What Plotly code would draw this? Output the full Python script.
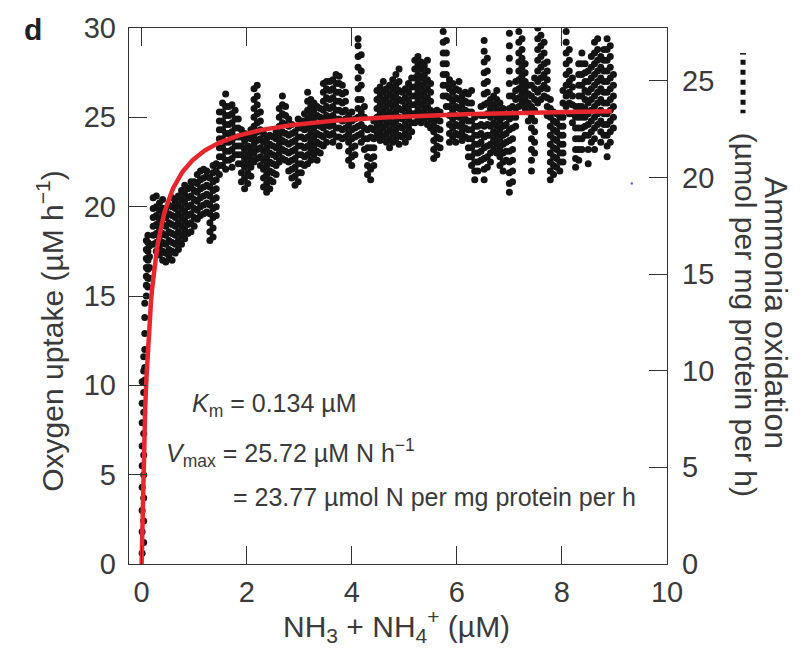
import plotly.graph_objects as go

# Michaelis-Menten fit parameters (as printed on the panel)
KM = 0.134        # µM
VMAX = 25.72      # µM N per h
VMAX_PROTEIN = 23.77  # µmol N per mg protein per h

# Measured oxygen uptake, grouped by NH3 + NH4+ concentration (µM)
conc_cols = [
    0.01, 0.04, 0.06, 0.09, 0.12, 0.15,
    0.22, 0.28, 0.34, 0.40, 0.46, 0.52, 0.58, 0.64, 0.70, 0.76, 0.82, 0.88, 0.94,
    1.00, 1.06, 1.12, 1.18, 1.24, 1.30, 1.36, 1.42, 1.48, 1.54, 1.60, 1.66, 1.72,
    1.78, 1.84, 1.90, 1.96, 2.02, 2.08, 2.14, 2.20, 2.26, 2.32, 2.38, 2.44, 2.50,
    2.56, 2.62, 2.68, 2.74, 2.80, 2.86, 2.92, 2.98, 3.04, 3.10, 3.16, 3.22, 3.28,
    3.34, 3.40, 3.46, 3.52, 3.58, 3.64, 3.70, 3.76, 3.82, 3.88, 3.94, 4.00, 4.06,
    4.12, 4.18, 4.24, 4.30, 4.36, 4.42, 4.48, 4.54, 4.60, 4.66, 4.72, 4.78, 4.84,
    4.90, 4.96, 5.02, 5.08, 5.14, 5.20, 5.26, 5.32, 5.38, 5.44, 5.50, 5.56, 5.62,
    5.68, 5.74, 5.80, 5.86, 5.92, 5.98, 6.04, 6.10, 6.16, 6.22, 6.28, 6.34, 6.40,
    6.46, 6.52, 6.58, 6.64, 6.70, 6.76, 6.82, 6.88, 6.94, 7.00, 7.06, 7.12, 7.18,
    7.24, 7.30, 7.36, 7.42, 7.48, 7.54, 7.60, 7.66, 7.72, 7.78, 7.84, 7.90, 7.96,
    8.02, 8.08, 8.14, 8.20, 8.26, 8.32, 8.38, 8.44, 8.50, 8.56, 8.62, 8.68, 8.74,
    8.80, 8.86, 8.92, 8.98,
]

uptake_cols = [
    [0.6, 1.8, 3.0, 4.3, 5.5, 6.6, 7.9, 9.0, 10.2],
    [1.2, 2.4, 3.7, 5.0, 6.1, 7.3, 8.5, 9.6, 10.8, 11.6],
    [10.3, 11.0, 12.0, 12.9, 13.8, 14.6],
    [15.0, 15.6, 16.1, 16.6, 17.1, 17.6, 18.1],
    [15.5, 16.0, 16.5, 17.0, 17.5, 18.0, 18.4],
    [16.0, 16.6, 17.2, 17.8],
    [17.9, 18.4, 18.9, 19.4, 19.9, 20.5],
    [17.5, 18.0, 18.5, 19.0, 19.5, 20.0, 20.6],
    [17.3, 17.8, 18.3, 18.8, 19.3, 19.8, 20.2],
    [17.0, 17.5, 18.0, 18.5, 19.0, 19.5, 19.9, 20.4],
    [16.9, 17.4, 17.9, 18.4, 18.9, 19.4, 19.9],
    [17.2, 17.6, 18.1, 18.6, 19.1, 19.6, 20.1],
    [17.0, 17.5, 18.0, 18.5, 19.0, 19.5, 20.0, 20.5],
    [17.4, 17.9, 18.4, 18.9, 19.4, 19.9, 20.3],
    [17.6, 18.1, 18.6, 19.1, 19.6, 20.1, 20.6],
    [17.9, 18.4, 18.9, 19.4, 19.9, 20.4, 20.9],
    [18.2, 18.7, 19.2, 19.7, 20.2, 20.7, 21.2],
    [18.5, 19.0, 19.5, 20.0, 20.5, 21.0],
    [18.6, 19.1, 19.6, 20.1, 20.6, 21.1, 21.4],
    [18.9, 19.4, 19.9, 20.4, 20.9, 21.4],
    [19.3, 19.8, 20.3, 20.8, 21.3, 21.8],
    [19.5, 20.0, 20.5, 21.0, 21.5, 22.0],
    [19.6, 20.1, 20.6, 21.1, 21.6, 22.1],
    [19.7, 20.2, 20.7, 21.2, 21.7, 22.0],
    [18.1, 18.6, 19.1, 19.6, 20.1, 20.6, 21.1, 21.6],
    [18.3, 18.8, 19.4, 19.9, 20.4, 20.9, 21.4, 21.9, 22.3],
    [19.5, 20.0, 20.5, 21.0, 21.5, 22.0, 22.4],
    [21.8, 22.3, 22.8, 23.3, 23.8, 24.3, 24.8, 25.3],
    [22.3, 22.8, 23.3, 23.8, 24.3, 24.8, 25.3, 25.8],
    [22.1, 22.6, 23.1, 23.6, 24.1, 24.6, 25.1, 25.6, 26.3],
    [22.6, 23.1, 23.6, 24.1, 24.6, 25.1, 25.6],
    [22.2, 22.7, 23.2, 23.7, 24.2, 24.7, 25.2, 25.7],
    [22.9, 23.4, 23.9, 24.4, 24.9, 25.4],
    [22.4, 22.9, 23.4, 23.9, 24.4, 24.9],
    [21.4, 21.9, 22.4, 22.9, 23.4, 23.9, 24.3],
    [21.0, 21.6, 22.2, 22.7, 23.2, 23.7, 24.1],
    [21.3, 21.9, 22.4, 22.9, 23.4, 23.9],
    [21.7, 22.2, 22.7, 23.2, 23.8, 24.3],
    [22.5, 23.0, 23.5, 24.0, 24.5, 25.0, 25.5, 26.0, 26.6],
    [22.7, 23.2, 23.7, 24.2, 24.7, 25.2, 25.7, 26.2, 26.8],
    [22.3, 22.8, 23.3, 23.8, 24.3, 24.8, 25.3],
    [21.1, 21.6, 22.1, 22.6, 23.1, 23.6, 24.1],
    [20.8, 21.3, 21.8, 22.3, 22.8, 23.3, 23.8],
    [21.0, 21.5, 22.0, 22.5, 23.0, 23.5, 24.0],
    [21.4, 21.9, 22.4, 22.9, 23.4, 23.9],
    [21.8, 22.3, 22.8, 23.3, 23.8, 24.2],
    [22.5, 23.0, 23.5, 24.0, 24.5, 25.0, 25.5],
    [22.7, 23.2, 23.7, 24.2, 24.7, 25.2, 25.7, 26.2],
    [22.6, 23.1, 23.6, 24.1, 24.6, 25.1, 25.6],
    [22.0, 22.5, 23.0, 23.5, 24.0, 24.5, 24.9],
    [21.6, 22.1, 22.6, 23.1, 23.6, 24.1, 24.6],
    [21.2, 21.7, 22.2, 22.7, 23.2, 23.7, 24.2],
    [21.4, 21.9, 22.4, 22.9, 23.4, 23.9, 24.4, 24.9],
    [21.9, 22.4, 22.9, 23.4, 23.9, 24.4, 24.8],
    [22.3, 22.8, 23.3, 23.8, 24.3, 24.8, 25.2],
    [22.4, 22.9, 23.4, 23.9, 24.4, 24.9, 25.4, 25.9, 26.4],
    [22.6, 23.1, 23.6, 24.1, 24.6, 25.1, 25.6, 26.0],
    [22.9, 23.4, 23.9, 24.4, 24.9, 25.4, 25.8],
    [22.6, 23.1, 23.6, 24.1, 24.6, 25.1, 25.6],
    [23.0, 23.5, 24.0, 24.5, 25.0, 25.5],
    [23.4, 23.9, 24.4, 24.9, 25.4, 25.9, 26.4, 26.9],
    [23.6, 24.1, 24.6, 25.1, 25.6, 26.1, 26.6, 27.0],
    [24.0, 24.5, 25.0, 25.5, 26.0, 26.5, 27.0],
    [23.6, 24.1, 24.6, 25.1, 25.6, 26.1, 26.6, 27.1],
    [23.9, 24.4, 24.9, 25.4, 25.9, 26.4, 26.9, 27.4],
    [23.4, 23.9, 24.4, 24.9, 25.4, 25.9, 26.4, 26.9, 27.3],
    [23.8, 24.3, 24.8, 25.3, 25.8, 26.3, 26.8],
    [23.9, 24.4, 24.9, 25.4, 25.9, 26.4],
    [22.6, 23.1, 23.6, 24.1, 24.6, 25.1],
    [22.3, 22.8, 23.3, 23.8, 24.3, 24.8, 25.3],
    [22.9, 23.4, 23.9, 24.4, 24.9],
    [24.0, 24.5, 25.0, 25.5, 26.0, 26.6, 27.2, 27.8, 28.4, 29.0, 29.4],
    [23.6, 24.1, 24.6, 25.3, 26.0, 26.8, 27.6, 28.5],
    [23.2, 23.8, 24.4, 25.0, 25.6],
    [21.8, 22.3, 22.8, 23.3, 23.8, 24.3],
    [21.5, 22.1, 22.7, 23.3, 23.9, 24.4],
    [22.3, 22.8, 23.3, 23.8, 24.3, 24.8],
    [24.0, 24.5, 25.0, 25.5, 26.0, 26.5],
    [23.7, 24.2, 24.7, 25.2, 25.7, 26.2, 26.7],
    [23.9, 24.4, 24.9, 25.4, 25.9, 26.4, 27.0],
    [23.6, 24.1, 24.6, 25.1, 25.6, 26.1, 26.6],
    [23.3, 23.8, 24.3, 24.8, 25.3, 25.8, 26.3, 26.8],
    [23.6, 24.1, 24.6, 25.1, 25.6, 26.1, 26.6, 27.1],
    [23.8, 24.3, 24.8, 25.3, 25.8, 26.3, 26.8, 27.4],
    [23.5, 24.0, 24.5, 25.0, 25.5, 26.0, 26.5, 27.0, 27.7],
    [23.9, 24.4, 24.9, 25.4, 25.9, 26.4],
    [23.6, 24.1, 24.6, 25.1, 25.6, 26.1, 26.6],
    [23.9, 24.4, 24.9, 25.4, 25.9, 26.4, 26.9],
    [24.2, 24.7, 25.2, 25.7, 26.2, 26.7, 27.2],
    [24.7, 25.2, 25.7, 26.2, 26.7, 27.2, 27.7, 28.2],
    [24.9, 25.4, 25.9, 26.4, 26.9, 27.4, 27.9, 28.4],
    [24.7, 25.2, 25.7, 26.2, 26.7, 27.2, 27.7, 28.1],
    [24.9, 25.4, 25.9, 26.4, 26.9, 27.4, 27.9],
    [24.6, 25.1, 25.6, 26.1, 26.6, 27.1, 27.6, 28.2],
    [24.4, 24.9, 25.4, 25.9, 26.4, 26.9],
    [22.7, 23.2, 23.7, 24.2, 24.7, 25.2],
    [22.9, 23.4, 23.9, 24.4, 24.9, 25.4],
    [23.3, 23.8, 24.3, 24.8, 25.3],
    [26.2, 26.8, 27.4, 28.0, 28.6, 29.2, 29.8],
    [25.6, 26.2, 26.8, 27.4, 28.0, 28.6, 29.3],
    [23.6, 24.1, 24.6, 25.1, 25.6, 26.1, 26.6, 27.1],
    [23.9, 24.4, 24.9, 25.4, 25.9, 26.4, 26.9],
    [23.6, 24.1, 24.6, 25.1, 25.6, 26.1, 26.6],
    [24.0, 24.5, 25.0, 25.5, 26.0, 26.5, 27.0],
    [23.7, 24.2, 24.7, 25.2, 25.7, 26.2],
    [23.9, 24.4, 24.9, 25.4, 25.9, 26.4],
    [22.8, 23.3, 23.8, 24.3, 24.8, 25.3, 25.8, 26.3],
    [22.3, 22.8, 23.3, 23.8, 24.3, 24.8, 25.3, 25.8, 26.5],
    [21.5, 22.0, 22.5, 23.0, 23.5, 24.0, 24.5, 25.0],
    [22.0, 22.5, 23.0, 23.5, 24.0, 24.5],
    [22.6, 23.1, 23.6, 24.1, 24.6, 25.1, 25.6],
    [21.5, 22.1, 22.7, 23.3, 23.9, 24.5, 25.1, 25.7, 26.3, 26.9, 27.5, 28.1, 28.7, 29.3],
    [22.2, 22.8, 23.4, 24.0, 24.6, 25.2, 25.8, 26.4, 27.0, 27.6, 28.3],
    [22.5, 23.0, 23.5, 24.0, 24.5, 25.0, 25.5, 26.0],
    [23.2, 23.7, 24.2, 24.7, 25.2, 25.7, 26.2],
    [23.0, 23.5, 24.0, 24.5, 25.0, 25.5, 26.0, 26.5],
    [22.3, 22.8, 23.3, 23.8, 24.3, 24.8, 25.3, 25.8],
    [22.0, 22.5, 23.0, 23.5, 24.0, 24.5, 25.0, 25.5],
    [22.6, 23.1, 23.6, 24.1, 24.6, 25.1],
    [20.8, 21.3, 21.9, 22.5, 23.1, 23.7, 24.3, 24.9, 25.5, 26.2, 26.9, 27.6, 28.3, 29.0, 29.7],
    [21.4, 22.0, 22.6, 23.2, 23.8, 24.4, 25.0, 25.6, 26.2],
    [24.5, 25.0, 25.5, 26.0, 26.5, 27.0],
    [25.6, 26.1, 26.6, 27.1, 27.6, 28.1, 28.6, 29.2, 29.8],
    [25.8, 26.3, 26.8, 27.3, 27.8, 28.3, 28.8, 29.4],
    [25.5, 26.0, 26.5, 27.0, 27.5, 28.0],
    [24.8, 25.3, 25.8, 26.3, 26.8],
    [22.0, 22.6, 23.2, 23.8, 24.4, 25.0, 25.6, 26.2, 26.8],
    [23.0, 23.6, 24.2, 24.8, 25.4, 26.0, 26.6, 27.2],
    [25.8, 26.4, 27.0, 27.6, 28.2, 28.8, 29.4, 30.0],
    [26.0, 26.6, 27.2, 27.8, 28.4, 29.0, 29.6],
    [26.2, 26.8, 27.4, 28.0, 28.6, 29.2],
    [25.1, 25.6, 26.1, 26.6, 27.1, 27.6, 28.1],
    [21.5, 22.0, 22.5, 23.0, 23.5, 24.0, 24.5, 25.0, 25.5, 26.0],
    [21.8, 22.3, 22.8, 23.3, 23.8, 24.3, 24.8, 25.3],
    [22.2, 22.7, 23.2, 23.7, 24.2, 24.7, 25.2],
    [22.0, 22.5, 23.0, 23.5, 24.0, 24.5, 25.0],
    [22.5, 23.0, 23.5, 24.0, 24.5, 25.0, 25.8, 26.5],
    [25.6, 26.2, 26.8, 27.4, 28.0, 28.6, 29.2, 29.8],
    [25.2, 25.8, 26.4, 27.0, 27.6, 28.2, 28.8],
    [24.7, 25.2, 25.7, 26.2, 26.7, 27.2],
    [22.2, 22.7, 23.2, 23.8, 24.4, 25.0, 25.6],
    [22.6, 23.2, 23.8, 24.4, 25.0, 25.6, 26.2, 26.8, 27.4, 28.0],
    [23.2, 23.8, 24.4, 25.0, 25.6, 26.2, 26.8, 27.4, 28.0, 28.6],
    [24.0, 24.5, 25.0, 25.5, 26.0, 26.5, 27.0, 27.5, 28.0],
    [22.4, 23.2, 24.0, 24.6, 25.2, 25.8, 26.4, 27.0, 27.6],
    [23.6, 24.2, 24.8, 25.4, 26.0, 26.6, 27.2, 27.8, 28.4],
    [23.2, 23.8, 24.4, 25.0, 25.6, 26.2, 26.8, 27.4, 28.0, 28.6, 29.2],
    [24.6, 25.2, 25.8, 26.4, 27.0, 27.6, 28.2, 28.8, 29.4],
    [23.6, 24.2, 24.8, 25.4, 26.0, 26.6, 27.2, 27.8, 28.4],
    [24.0, 24.6, 25.2, 25.8, 26.4, 27.0, 27.6, 28.2, 28.8],
    [22.8, 23.4, 24.0, 24.6, 25.2, 25.8, 26.4, 27.0, 27.6, 28.2, 28.8, 29.4],
    [23.6, 24.2, 24.8, 25.4, 26.0, 26.6, 27.2, 27.8, 28.4, 29.0],
    [24.4, 25.0, 25.6, 26.2, 26.8, 27.4],
]

# A single stray reading beyond the fitted range
stray_conc = [9.33]
stray_uptake = [21.3]

# Extent of the fitted curve (µM)
fit_start, fit_end, fit_steps = 0.0, 8.95, 400

conc = [c for c, ys in zip(conc_cols, uptake_cols) for _ in ys]
uptake = [y for ys in uptake_cols for y in ys]

fit_x = [fit_start + (fit_end - fit_start) * i / (fit_steps - 1) for i in range(fit_steps)]
fit_y = [VMAX * s / (KM + s) for s in fit_x]

# Axis ranges; the right axis rescales µM N h-1 to µmol N per mg protein per h
x_range = [-0.24, 10]
y_range = [0, 30]
y2_range = [0, 30 * VMAX_PROTEIN / VMAX]

# Plot-area box in pixels
W, H = 799, 649
L, R, T, B = 129, 667, 24, 564


def fx(px):
    return (px - L) / (R - L)


def fy(py):
    return (B - py) / (B - T)


FONT = "Liberation Sans, Arial, Helvetica, sans-serif"
TXT = "#3a3a3a"
AX = "#333333"

fig = go.Figure()

fig.add_trace(go.Scatter(
    x=conc, y=uptake, mode="markers",
    marker=dict(color="#141414", size=7, line=dict(width=0)),
    showlegend=False, hoverinfo="skip",
))
fig.add_trace(go.Scatter(
    x=stray_conc, y=stray_uptake, mode="markers",
    marker=dict(color="#5a64c8", size=2.5),
    showlegend=False, hoverinfo="skip",
))
fig.add_trace(go.Scatter(
    x=fit_x, y=fit_y, mode="lines",
    line=dict(color="#e8262d", width=4.5),
    showlegend=False, hoverinfo="skip",
))
# invisible trace to attach the right-hand axis
fig.add_trace(go.Scatter(
    x=[x_range[0]], y=[0], yaxis="y2", mode="markers",
    marker=dict(opacity=0), showlegend=False, hoverinfo="skip",
))

tick_common = dict(
    ticks="inside", ticklen=18, tickwidth=1.3, tickcolor=AX,
    showline=True, linecolor=AX, linewidth=1.4,
    showgrid=False, zeroline=False,
    tickfont=dict(family=FONT, size=29, color=TXT),
)

fig.update_layout(
    width=W, height=H,
    margin=dict(l=L, r=W - R, t=T, b=H - B, pad=0),
    paper_bgcolor="white", plot_bgcolor="white",
    xaxis=dict(range=x_range, tickmode="array", tickvals=[0, 2, 4, 6, 8, 10],
               mirror="ticks", ticklabelstandoff=2, **tick_common),
    yaxis=dict(range=y_range, tickmode="array", tickvals=[0, 5, 10, 15, 20, 25, 30],
               ticklabelstandoff=6, **tick_common),
    yaxis2=dict(range=y2_range, overlaying="y", side="right",
                tickmode="array", tickvals=[0, 5, 10, 15, 20, 25],
                ticklabelstandoff=8, **tick_common),
)

ann_font = dict(family=FONT, size=25, color=TXT)
title_font = dict(family=FONT, size=30, color=TXT)

annotations = [
    dict(text="<b>d</b>", x=fx(33), y=fy(26), font=dict(family=FONT, size=30, color="#222"),
         xanchor="center", yanchor="middle"),
    dict(text="Oxygen uptake (µM h<sup>−1</sup>)", x=fx(50), y=fy(330), textangle=-90,
         font=title_font, xanchor="center", yanchor="middle"),
    dict(text="Ammonia oxidation", x=fx(776), y=fy(311), textangle=90,
         font=dict(family=FONT, size=32, color=TXT), xanchor="center", yanchor="middle"),
    dict(text="(µmol per mg protein per h)", x=fx(745), y=fy(313), textangle=90,
         font=dict(family=FONT, size=30, color=TXT), xanchor="center", yanchor="middle"),
    dict(text="NH<sub>3</sub> + NH<sub>4</sub><sup>+</sup> (µM)", x=fx(396), y=fy(626),
         font=title_font, xanchor="center", yanchor="middle"),
    dict(text=f"<i>K</i><sub>m</sub> = {KM} µM", x=fx(190), y=fy(404),
         font=ann_font, xanchor="left", yanchor="middle"),
    dict(text=f"<i>V</i><sub>max</sub> = {VMAX} µM N h<sup>−1</sup>", x=fx(164), y=fy(452),
         font=ann_font, xanchor="left", yanchor="middle"),
    dict(text=f"= {VMAX_PROTEIN} µmol N per mg protein per h", x=fx(231), y=fy(496),
         font=ann_font, xanchor="left", yanchor="middle"),
]
for a in annotations:
    a.update(xref="paper", yref="paper", showarrow=False)
fig.update_layout(annotations=annotations)

# short dotted rule beside the right-hand axis title
fig.add_shape(type="line", xref="paper", yref="paper",
              x0=fx(743), x1=fx(743), y0=fy(56), y1=fy(110),
              line=dict(color="#111", width=5, dash="dot"))
fig.add_shape(type="line", xref="paper", yref="paper",
              x0=fx(740), x1=fx(746), y0=fy(50), y1=fy(50),
              line=dict(color="#111", width=1.5))

fig.write_html("out.html")
